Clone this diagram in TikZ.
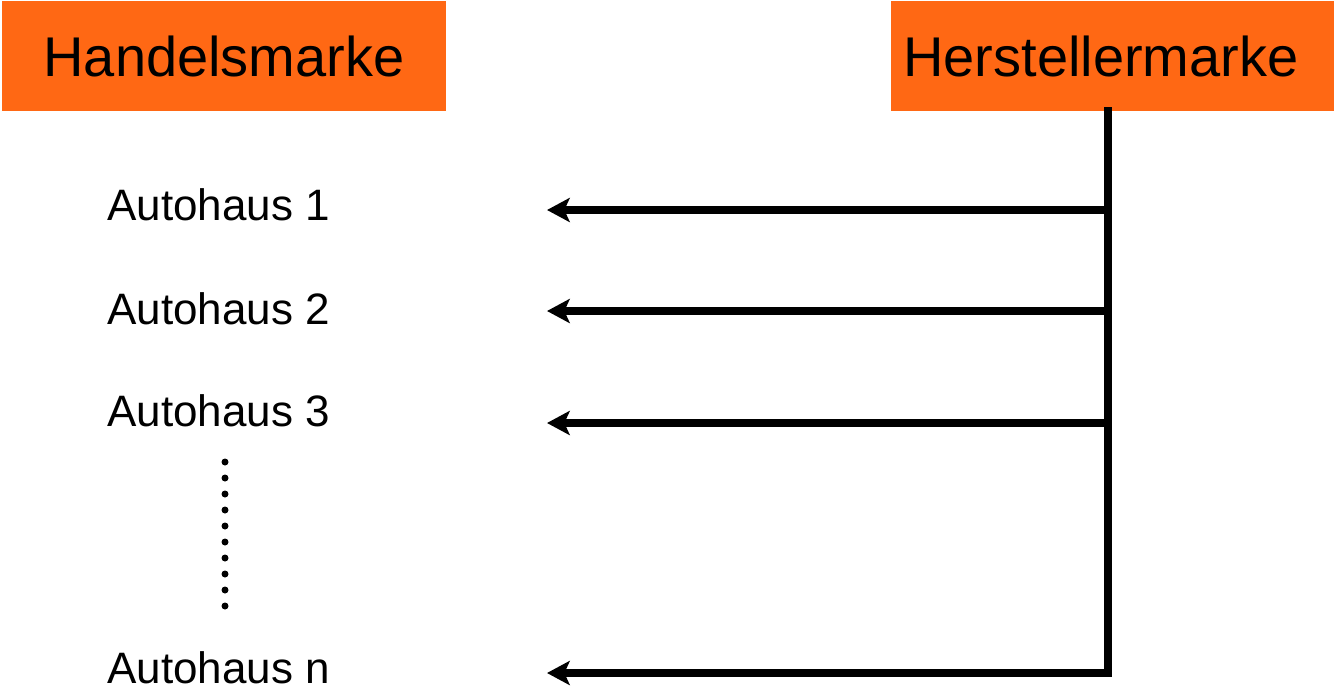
\documentclass[tikz,border=0pt]{standalone}
\usepackage{fontspec}
\setmainfont{Liberation Sans}
\usetikzlibrary{arrows.meta}
\definecolor{markorange}{RGB}{255,104,20}
\tikzset{
  markbox/.style={fill=markorange, minimum height=82.5pt, inner sep=0pt, font=\fontsize{42}{48}\selectfont},
  haus/.style={anchor=base west, inner sep=0pt, font=\fontsize{33}{38}\selectfont},
  feed/.style={line width=5.5pt, miter limit=10},
  give/.style={feed, -{Stealth[length=17pt, width=18pt, inset=4pt]}}
}
\begin{document}
\begin{tikzpicture}[x=0.75pt, y=-0.75pt]
\useasboundingbox (0,0) rectangle (1334,690);

% brands
\node[markbox, minimum width=333pt] (handel) at (224,56) {Handelsmarke};
\node[markbox, anchor=north west, text width=314.25pt, inner xsep=9pt, align=left] (herst) at (891,1) {Herstellermarke};

% dealers
\node[haus] (a1) at (107,220) {Autohaus 1};
\node[haus] (a2) at (107,324) {Autohaus 2};
\node[haus] (a3) at (107,426) {Autohaus 3};
\node[haus] (an) at (107,683) {Autohaus n};

\draw[line width=5.25pt, line cap=round, dash pattern=on 0pt off 12pt] (225,462) coordinate (dtop) -- (225,606) coordinate (dbot);

% supply line
\coordinate (top) at (1108,107);
\foreach \y/\n in {210/1,311/2,423/3,673/n}{
  \coordinate (s\n) at (1108,\y);
  \coordinate (e\n) at (547,\y);
}
\draw[feed] (top) -- (s1);
\foreach \n in {1,2,3}
  \draw[give] (s\n) -- (e\n);
\draw[give] (top) -- (sn) -- (en);
\end{tikzpicture}
\end{document}
